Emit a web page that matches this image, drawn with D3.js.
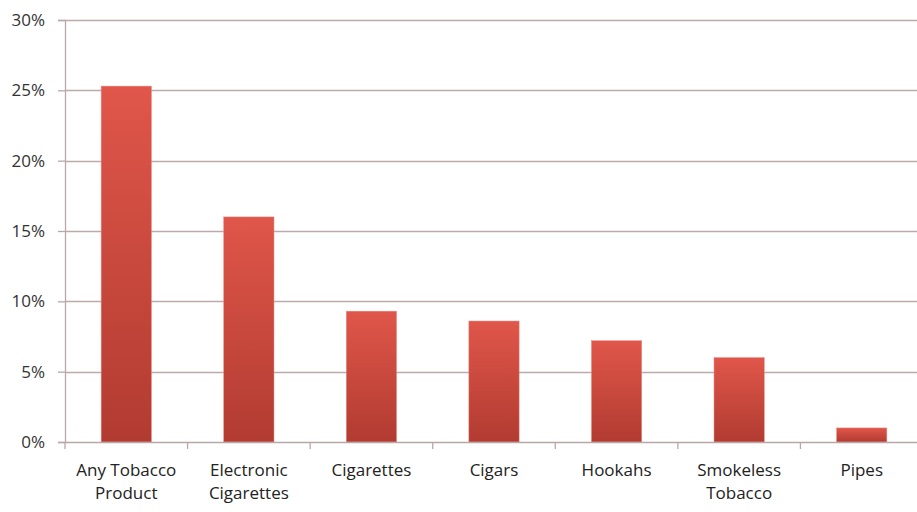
<!DOCTYPE html>
<html><head><meta charset="utf-8">
<script src="https://cdn.jsdelivr.net/npm/d3@7/dist/d3.min.js"></script>
<style>body{margin:0;background:#fff}svg{display:block}</style>
</head><body><svg id="c" width="917" height="512"></svg>
<script>
const categories = [["Any Tobacco","Product"],["Electronic","Cigarettes"],["Cigarettes"],["Cigars"],["Hookahs"],["Smokeless","Tobacco"],["Pipes"]];
const values = [25.3, 16.0, 9.3, 8.6, 7.2, 6.0, 1.0];
const yTicks = [0,5,10,15,20,25,30];

(function(){
const svg = d3.select("#c");
const mLeft = 65, mRight = 923, mTop = 20, mBottom = 442;
const keys = categories.map((c,i)=>i);
const x = d3.scaleBand().domain(keys).range([mLeft,mRight]).paddingInner(0.59).paddingOuter(0.295);
const xb = d3.scaleBand().domain(keys).range([mLeft,mRight]);
const y = d3.scaleLinear().domain([0,30]).range([mBottom,mTop]);

const defs = svg.append("defs");
const g = defs.append("linearGradient").attr("id","bg").attr("x1",0).attr("y1",0).attr("x2",0).attr("y2",1);
g.append("stop").attr("offset","0%").attr("stop-color","#e0564a");
g.append("stop").attr("offset","100%").attr("stop-color","#b23b31");

const font = "'Open Sans', sans-serif";
svg.append("g").selectAll("line").data(yTicks.filter(d=>d>0)).join("line")
  .attr("x1",mLeft).attr("x2",917).attr("y1",d=>Math.round(y(d))+0.5).attr("y2",d=>Math.round(y(d))+0.5)
  .attr("stroke","#bcaaaa").attr("stroke-width",1.3);

const ya = d3.axisLeft(y).tickValues(yTicks).tickSize(7).tickPadding(13).tickFormat(d=>d+"%");
const yg = svg.append("g").attr("transform",`translate(${mLeft},0)`).call(ya);
yg.select(".domain").attr("stroke","#b9a7a7").attr("stroke-width",1.3);
yg.selectAll(".tick line").attr("stroke","#b9a7a7").attr("stroke-width",1.3);
yg.selectAll(".tick text").attr("font-family",font).attr("font-size",17).attr("fill","#333");

svg.append("g").selectAll("rect").data(values).join("rect")
  .attr("x",(d,i)=>x(i)).attr("width",x.bandwidth())
  .attr("y",d=>y(d)).attr("height",d=>mBottom-y(d))
  .attr("fill","url(#bg)").attr("stroke","#e88a80").attr("stroke-width",0.5);

const xa = d3.axisBottom(xb).tickSize(0).tickFormat("");
const xg = svg.append("g").attr("transform",`translate(0,${mBottom})`).call(xa);
xg.select(".domain").attr("stroke","#b9a7a7").attr("stroke-width",1.3);
svg.append("g").selectAll("line").data(keys.concat([keys.length])).join("line")
  .attr("x1",(d,i)=>mLeft+xb.step()*i).attr("x2",(d,i)=>mLeft+xb.step()*i)
  .attr("y1",mBottom).attr("y2",mBottom+7).attr("stroke","#b9a7a7").attr("stroke-width",1.3);

const lab = svg.append("g").selectAll("text").data(categories).join("text")
  .attr("x",(d,i)=>xb(i)+xb.bandwidth()/2).attr("y",476)
  .attr("text-anchor","middle").attr("font-family",font).attr("font-size",17).attr("fill","#222");
lab.each(function(d){
  const t = d3.select(this);
  t.selectAll("tspan").data(d).join("tspan")
    .attr("x",t.attr("x")).attr("dy",(s,j)=>j===0?0:23).text(s=>s);
});
})();
</script></body></html>
